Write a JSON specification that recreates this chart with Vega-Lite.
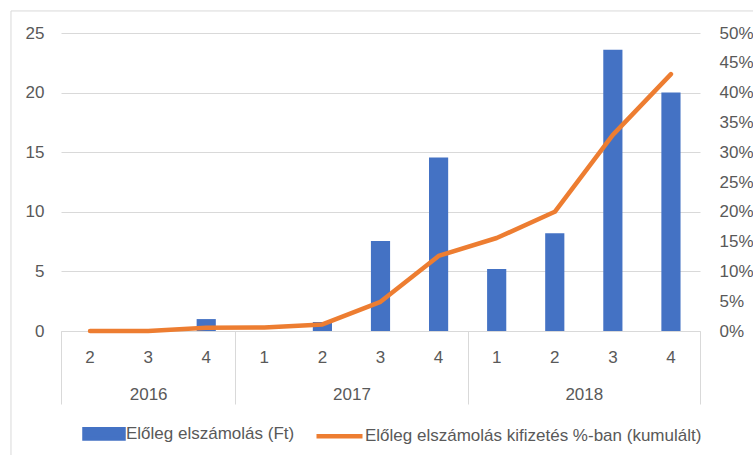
{
  "$schema": "https://vega.github.io/schema/vega-lite/v6.json",
  "width": 639,
  "height": 298,
  "autosize": {"type": "none"},
  "padding": {"left": 61, "top": 33, "right": 53, "bottom": 124},
  "background": "white",
  "config": {
    "font": "Liberation Sans",
    "view": {"stroke": null},
    "axis": {
      "labelFont": "Liberation Sans",
      "labelFontSize": 17,
      "labelColor": "#595959",
      "grid": false,
      "ticks": false,
      "domain": false,
      "title": null
    }
  },
  "data": {
    "values": [
      {"period": "2016-2", "Ft": 0, "pct": 0},
      {"period": "2016-3", "Ft": 0, "pct": 0},
      {"period": "2016-4", "Ft": 1.0, "pct": 0.0055},
      {"period": "2017-1", "Ft": 0, "pct": 0.006},
      {"period": "2017-2", "Ft": 0.75, "pct": 0.011},
      {"period": "2017-3", "Ft": 7.55, "pct": 0.049},
      {"period": "2017-4", "Ft": 14.55, "pct": 0.126},
      {"period": "2018-1", "Ft": 5.2, "pct": 0.156},
      {"period": "2018-2", "Ft": 8.2, "pct": 0.2},
      {"period": "2018-3", "Ft": 23.6, "pct": 0.329},
      {"period": "2018-4", "Ft": 20.0, "pct": 0.431}
    ]
  },
  "layer": [
    {
      "layer": [
        {
          "mark": {"type": "bar"},
          "encoding": {
            "x": {
              "field": "period",
              "type": "nominal",
              "sort": null,
              "scale": {"paddingInner": 0.67, "paddingOuter": 0.335},
              "axis": {
                "orient": "bottom",
                "labelExpr": "split(datum.value, '-')[1]",
                "labelAngle": 0,
                "domain": true,
                "domainColor": "#d9d9d9",
                "domainWidth": 1,
                "labelPadding": 18
              }
            },
            "y": {
              "field": "Ft",
              "type": "quantitative",
              "scale": {"domain": [0, 25], "nice": false},
              "axis": {
                "orient": "left",
                "values": [0, 5, 10, 15, 20, 25],
                "grid": true,
                "gridColor": "#d9d9d9",
                "gridWidth": 1,
                "labelPadding": 17
              }
            },
            "color": {
              "datum": "Előleg elszámolás (Ft)",
              "type": "nominal",
              "scale": {
                "domain": ["Előleg elszámolás (Ft)", "Előleg elszámolás kifizetés %-ban (kumulált)"],
                "range": ["#4472C4", "#ED7D31"]
              },
              "legend": {
                "orient": "none",
                "legendX": 14,
                "legendY": 375,
                "direction": "horizontal",
                "title": null,
                "symbolSize": 2116,
                "labelFont": "Liberation Sans",
                "labelFontSize": 17,
                "labelColor": "#595959",
                "labelOffset": 0,
                "columnPadding": 12,
                "padding": 0,
                "labelLimit": 500,
                "encode": {
                  "symbols": {
                    "update": {
                      "size": {"value": 2116},
                      "shape": {"signal": "datum.value === 'Előleg elszámolás (Ft)' ? 'M-0.696,-0.2H1V0.2H-0.696Z' : 'stroke'"},
                      "fill": {"signal": "datum.value === 'Előleg elszámolás (Ft)' ? '#4472C4' : 'transparent'"},
                      "stroke": {"signal": "datum.value === 'Előleg elszámolás (Ft)' ? 'transparent' : '#ED7D31'"},
                      "strokeWidth": {"value": 4.5},
                      "opacity": {"value": 1}
                    }
                  }
                }
              }
            }
          }
        },
        {
          "mark": {"type": "line", "strokeWidth": 4.5, "strokeJoin": "round", "strokeCap": "round"},
          "encoding": {
            "x": {"field": "period", "type": "nominal", "sort": null},
            "y": {
              "field": "pct",
              "type": "quantitative",
              "scale": {"domain": [0, 0.5], "nice": false},
              "axis": {
                "orient": "right",
                "format": ".0%",
                "values": [0, 0.05, 0.1, 0.15, 0.2, 0.25, 0.3, 0.35, 0.4, 0.45, 0.5],
                "labelAlign": "left",
                "labelPadding": 19
              }
            },
            "color": {"datum": "Előleg elszámolás kifizetés %-ban (kumulált)", "type": "nominal"}
          }
        }
      ],
      "resolve": {"scale": {"y": "independent"}}
    },
    {
      "data": {"values": [{}]},
      "mark": {"type": "rule", "opacity": 0},
      "encoding": {
        "x": {
          "datum": 0,
          "type": "quantitative",
          "scale": {"domain": [-0.5, 10.5], "nice": false, "zero": false},
          "axis": {
            "orient": "bottom",
            "values": [-0.5, 2.5, 6.5, 10.5],
            "ticks": true,
            "tickSize": 73,
            "tickColor": "#d9d9d9",
            "tickWidth": 1,
            "labels": false,
            "domain": false
          }
        }
      }
    },
    {
      "data": {"values": [{}]},
      "mark": {"type": "rule", "opacity": 0},
      "encoding": {
        "x": {
          "datum": 0,
          "type": "quantitative",
          "scale": {"domain": [-0.5, 10.5], "nice": false, "zero": false},
          "axis": {
            "orient": "bottom",
            "values": [1, 4.5, 8.5],
            "labelExpr": "datum.value == 1 ? '2016' : datum.value == 4.5 ? '2017' : '2018'",
            "labelPadding": 55,
            "labelFlush": false,
            "labelOverlap": false
          }
        }
      }
    },
    {
      "data": {"values": [{}]},
      "mark": {"type": "rect", "fillOpacity": 0, "stroke": "#d9d9d9", "strokeWidth": 1, "clip": false},
      "encoding": {
        "x": {"datum": -1.361, "type": "quantitative", "scale": {"domain": [-0.5, 10.5], "nice": false, "zero": false}, "axis": null},
        "x2": {"datum": 13},
        "y": {"datum": 26.85, "type": "quantitative", "scale": {"domain": [0, 25], "nice": false}, "axis": null},
        "y2": {"datum": -12}
      }
    }
  ],
  "resolve": {"scale": {"x": "independent"}}
}
